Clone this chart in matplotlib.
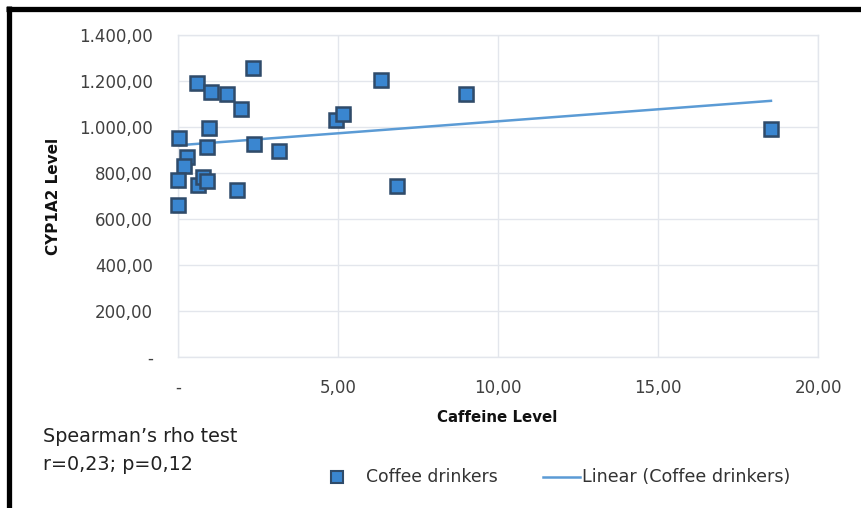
import numpy as np
import matplotlib.pyplot as plt
from matplotlib.lines import Line2D
from matplotlib.ticker import FuncFormatter
import matplotlib.transforms as mtransforms

plt.rcParams['font.family'] = ['DejaVu Sans']

# Coffee drinkers: caffeine level vs CYP1A2 level
caffeine = [2.34, 0.59, 1.03, 1.53, 1.97, 0.97, 0.03, 0.91, 2.38, 3.16, 0.28, 0.19,
            0.0, 0.63, 0.78, 0.91, 1.84, 0.0, 4.94, 5.16, 6.34, 9.0, 6.84, 18.53]
cyp1a2 = [1257, 1191, 1152, 1143, 1078, 996, 952, 913, 926, 896, 870, 830,
          770, 748, 783, 765, 726, 660, 1030, 1056, 1204, 1143, 745, 991]

x_ticks = [0, 5, 10, 15, 20]
y_ticks = [0, 200, 400, 600, 800, 1000, 1200, 1400]

blue_fill = '#3A86D0'
blue_edge = '#2F4B6A'
trend_col = '#5B9BD5'


def eu_fmt(v, pos=None):
    if abs(v) < 1e-9:
        return "-"
    s = "{:,.2f}".format(v)
    return s.replace(",", "X").replace(".", ",").replace("X", ".")


fig = plt.figure(figsize=(8.61, 5.08), dpi=100)
W, H = 861.0, 508.0
ax = fig.add_axes([178/W, 1 - 357/H, 640/W, 322/H])

x = np.array(caffeine)
y = np.array(cyp1a2)

# linear trendline
k, b = np.polyfit(x, y, 1)
xl = np.array([x.min(), x.max()])
ax.plot(xl, k*xl + b, color=trend_col, lw=1.8, zorder=2)

# markers with a soft shadow
shadow = ax.transData + mtransforms.ScaledTranslation(1.5/100, -2/100, fig.dpi_scale_trans)
ax.plot(x, y, 's', ms=9.5, color='#000000', alpha=0.18, mew=0, transform=shadow,
        zorder=3, clip_on=False)
ax.plot(x, y, 's', ms=9.5, mfc=blue_fill, mec=blue_edge, mew=1.8, zorder=4, clip_on=False)

ax.set_xlim(0, 20)
ax.set_ylim(0, 1400)
ax.set_xticks(x_ticks)
ax.set_yticks(y_ticks)
ax.xaxis.set_major_formatter(FuncFormatter(eu_fmt))
ax.yaxis.set_major_formatter(FuncFormatter(eu_fmt))
ax.tick_params(length=0, labelsize=12, colors='#404040')
ax.tick_params(axis='y', pad=18)
ax.tick_params(axis='x', pad=16)
ax.grid(True, color='#E3E6EC', lw=1)
ax.set_axisbelow(True)
for s in ax.spines.values():
    s.set_color('#E3E6EC')
    s.set_linewidth(1)

ax.set_xlabel('Caffeine Level', fontsize=10.8, fontweight='bold', color='#111111')
ax.xaxis.set_label_coords((497 - 178)/640, -(418 - 357)/322)
ax.xaxis.label.set_verticalalignment('center')
ax.set_ylabel('CYP1A2 Level', fontsize=11, fontweight='bold', color='#111111')
ax.yaxis.set_label_coords((53 - 178)/640, 1 - (196 - 35)/322)
ax.yaxis.label.set_verticalalignment('center')

fig.text(43/W, 1 - 437/H, 'Spearman\u2019s rho test', fontsize=13.8, va='center', color='#222222')
fig.text(43/W, 1 - 465/H, 'r=0,23; p=0,12', fontsize=13.8, va='center', color='#222222')

# legend, placed like the original
ly = 1 - 477/H
fig.add_artist(Line2D([337/W], [ly], transform=fig.transFigure, ls='none', marker='s',
                      ms=8, mfc=blue_fill, mec=blue_edge, mew=1.5))
fig.text(366/W, ly, 'Coffee drinkers', fontsize=12.4, va='center', color='#333333')
fig.add_artist(Line2D([543/W, 580/W], [ly, ly], transform=fig.transFigure,
                      color=trend_col, lw=1.8))
fig.text(582/W, ly, 'Linear (Coffee drinkers)', fontsize=12.6, va='center', color='#333333')

# black frame edges (left and top)
fig.add_artist(Line2D([8.5/W, 8.5/W], [0, 1 - 6/H], transform=fig.transFigure,
                      color='black', lw=3.8, solid_capstyle='butt'))
fig.add_artist(Line2D([6/W, 1], [1 - 8.5/H, 1 - 8.5/H], transform=fig.transFigure,
                      color='black', lw=3.8, solid_capstyle='butt'))

fig.savefig('out.png', dpi=100)
